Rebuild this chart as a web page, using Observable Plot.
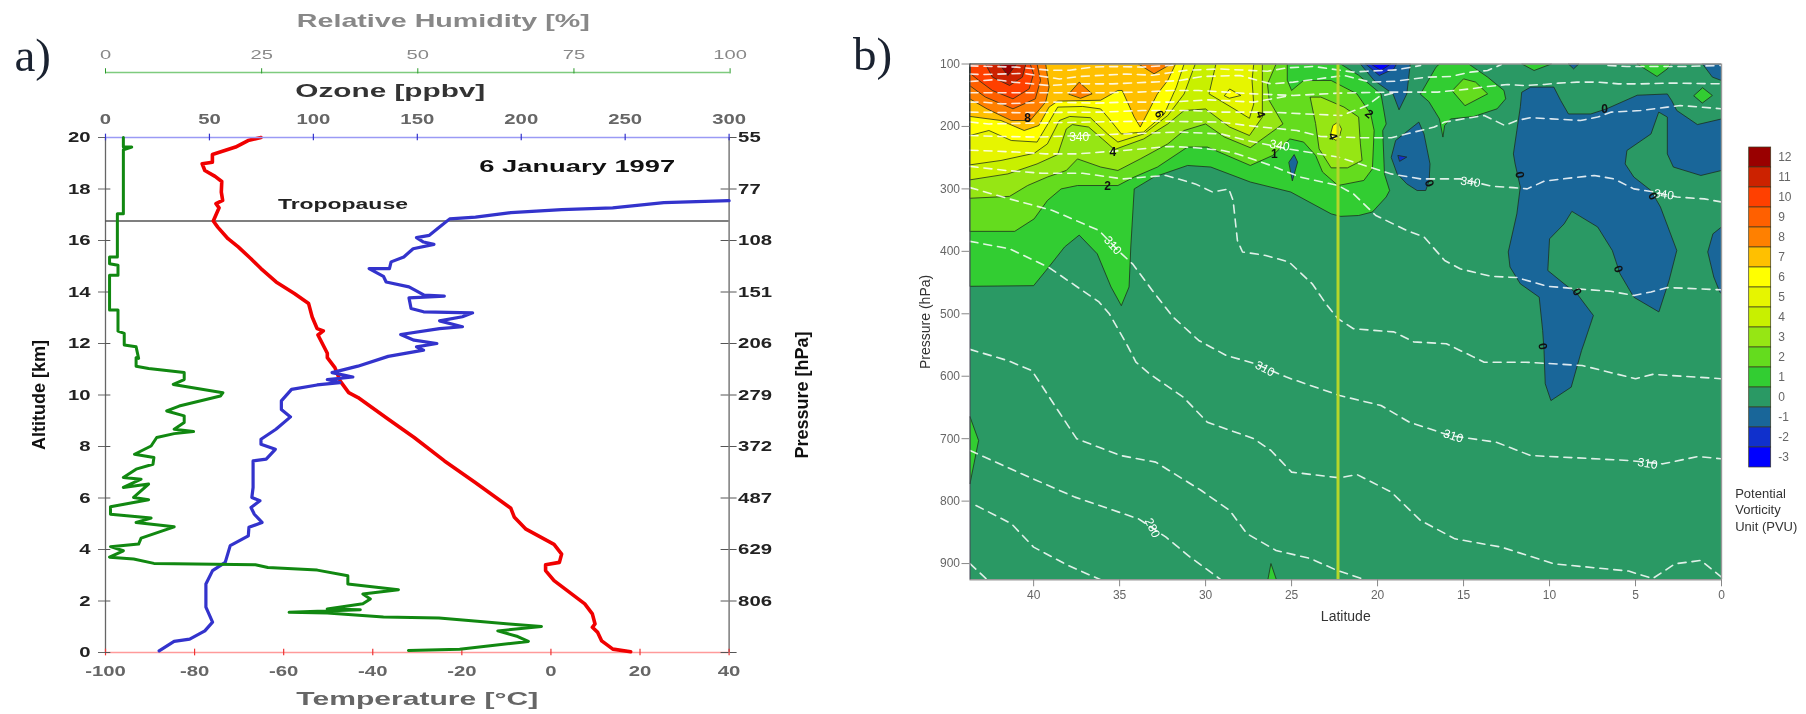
<!DOCTYPE html>
<html><head><meta charset="utf-8">
<script src="https://cdn.jsdelivr.net/npm/d3@7"></script>
<script src="https://cdn.jsdelivr.net/npm/@observablehq/plot@0.6"></script>
<style>
html,body{margin:0;padding:0;background:#fff;overflow:hidden}
#chart{position:relative;width:1806px;height:714px;filter:blur(.45px)}
#chart svg{position:absolute;left:0;top:0}
</style></head><body><div id="chart"></div>
<script>
// ---------- panel a: profiles as [value, altitude km]
const temperature = [[-65.1,20],[-68,19.88],[-70.8,19.63],[-76,19.34],[-76,19.04],[-78.3,18.98],[-77.7,18.72],[-75.4,18.49],[-73.9,18.29],[-74,17.88],[-73.7,17.56],[-75.2,17.43],[-74.5,17.27],[-75.8,16.76],[-74.8,16.52],[-72.5,16.07],[-70.2,15.75],[-67.4,15.3],[-65.1,14.91],[-61.7,14.39],[-57.6,13.94],[-54.4,13.55],[-53.6,13.03],[-52.5,12.58],[-51.1,12.49],[-52.3,12.33],[-50.2,11.62],[-50.2,11.45],[-48.5,11.06],[-47.3,10.54],[-45.4,10.09],[-43.3,9.9],[-36.5,9.06],[-30.7,8.35],[-23.9,7.44],[-17,6.6],[-9,5.6],[-8.2,5.25],[-5.6,4.79],[0.7,4.2],[2.4,3.82],[1.9,3.5],[-1.2,3.41],[-1.2,3.18],[0.7,2.79],[7.6,1.89],[9.3,1.5],[9.9,1.11],[9.3,0.98],[10.5,0.78],[11.4,0.45],[13.9,0.13],[17.9,0.03]];
const ozone = [[300,17.55],[268.6,17.47],[244,17.27],[219.5,17.2],[195,17.08],[178,16.91],[165.6,16.84],[160.7,16.52],[155.8,16.2],[149.6,16.11],[153,15.94],[158,15.85],[148,15.68],[143.5,15.36],[137.4,15.17],[136.6,14.91],[126.8,14.91],[133.7,14.61],[135,14.39],[146,14.2],[153.3,13.88],[163,13.84],[146,13.77],[147,13.36],[153,13.23],[176.6,13.19],[171.7,13.04],[160.7,12.88],[171.7,12.65],[160.7,12.58],[142,12.35],[148.4,12.13],[159.4,12],[149.6,11.87],[153,11.74],[136,11.5],[121.4,11.12],[109,10.87],[119,10.7],[106.7,10.6],[112.8,10.48],[101.8,10.39],[89.5,10.22],[84.6,9.77],[84.6,9.44],[89,9.15],[82,8.67],[74.8,8.28],[74.8,8.09],[81.7,7.89],[77.3,7.51],[71,7.44],[71,6.41],[70.4,6.02],[74.3,5.89],[70,5.63],[71.6,5.37],[75.3,5.05],[69,4.86],[68.7,4.53],[60,4.15],[57.6,3.5],[51.5,3.18],[48.3,2.66],[48.3,1.76],[51.5,1.18],[47.8,0.84],[40.5,0.52],[33,0.43],[25.8,0.06]];
const humidity = [[2.86,20],[2.86,19.63],[4.2,19.63],[2.86,19.52],[2.86,17.04],[1.9,17.04],[1.9,15.36],[.65,15.36],[.65,15.1],[2,15.04],[2,14.65],[.65,14.65],[.65,13.3],[2,13.3],[2,12.48],[3,12.39],[3,11.94],[4.9,11.87],[5.3,11.42],[4.9,11.45],[4.9,11.12],[6.9,11.03],[12.6,10.87],[12.6,10.6],[10.85,10.41],[18.8,10.09],[18.4,9.96],[11.8,9.57],[9.8,9.38],[12.6,9.19],[12.6,8.93],[11,8.67],[14.1,8.58],[11,8.5],[8.2,8.35],[7.3,8.02],[4.65,7.7],[7.75,7.57],[7.6,7.31],[4.9,7.12],[2.86,6.8],[5.7,6.73],[2.86,6.41],[6.9,6.54],[4.5,6.02],[6.9,5.93],[.8,5.66],[.8,5.37],[7.3,5.22],[4.9,5.05],[11,4.88],[5.7,4.44],[5.3,4.21],[.8,4.11],[2.86,3.95],[.65,3.7],[4.5,3.63],[7.75,3.46],[24,3.41],[26,3.3],[33.9,3.2],[38.8,2.98],[38.8,2.66],[46.9,2.44],[41.2,2.27],[42.4,2.08],[41.2,1.89],[35.5,1.69],[40.8,1.66],[29.4,1.56],[35.5,1.53],[44.5,1.38],[53.4,1.34],[60,1.2],[69.8,1.01],[62.8,.84],[66,.62],[67.7,.43],[56.7,.13],[48.5,.08]];
const tropopauseAltitude = 16.76;
const temperatureTicks = [-100,-80,-60,-40,-20,0,20,40];
const ozoneTicks = [0,50,100,150,200,250,300];
const humidityTicks = [0,25,50,75,100];
const altitudeTicks = [0,2,4,6,8,10,12,14,16,18,20];
const pressureLabels = {20:"55",18:"77",16:"108",14:"151",12:"206",10:"279",8:"372",6:"487",4:"629",2:"806",0:""};

// ---------- panel b: PV contour regions as [latitude, pressure hPa]
const levels = [12,11,10,9,8,7,6,5,4,3,2,1,0,-1,-2,-3];
const levelColors = {12:"#990000",11:"#cc2200",10:"#ff4000",9:"#ff6000",8:"#ff8000",7:"#ffc000",6:"#ffff00",5:"#e6f500",4:"#c8f000",3:"#96e614",2:"#64dc1e",1:"#32cd32",0:"#2a9964","-1":"#196699","-2":"#1030cc","-3":"#0000ff"};
const pv1 = [[43.7,456],[40,455],[39.2,428],[38.2,393],[37.35,374],[36.3,404],[35.5,457],[34.9,487],[34.45,457],[34.35,393],[34.15,300],[33,281],[31.05,262.5],[29.7,265],[27.4,289],[25.05,305],[22.7,340],[22.15,344],[21.1,342.6],[20.3,337],[19.5,313],[19.3,302.6],[19.6,276],[19.7,206.5],[19.5,196],[19.8,148],[21.1,118],[22.15,100],[43.7,100]];
const pv1b = [[17.5,147.8],[16.6,105],[16.4,100],[14.7,100],[13.6,121],[12.65,142.4],[12.55,155.8],[13.05,171.8],[14.4,184],[15.75,188],[16.1,198.5],[16.2,217],[16.4,188],[17,161]];
const pv1c = [[11.6,100],[10.9,110.4],[9.9,100]];
const pv1d = [[4.9,100],[3.75,120],[3.15,107.8],[2.96,100]];
const pv1e = [[1.6,150.4],[1.1,138],[.53,150.4],[1.1,162.2]];
const pv1f = [[43.7,665],[43.2,703],[43.7,772]];
const pv1g = [[26.38,926],[26.2,900],[25.88,926]];
const pv2 = [[43.7,368],[41.1,368],[39.97,348],[39.2,318.6],[38.4,300],[37.45,294.6],[35.1,294.6],[34.15,281],[32.8,265],[31.05,233],[29.9,233],[27.4,262.5],[26.1,246.5],[25.1,220],[24.3,225],[23.6,246.5],[23.2,273],[22.3,294.6],[20.8,286.5],[20.3,268],[20.2,206.5],[20.4,180],[21.2,147.8],[22.7,126.4],[24.3,126.4],[25,142.4],[25.25,126],[25.25,100],[43.7,100]];
const pv2b = [[15.65,142.4],[15,123.8],[14.3,129],[13.6,147.8],[14.9,166.5]];
const pv3 = [[43.7,315],[41.4,312],[40.35,294.6],[39.2,281],[38.1,270.5],[37.45,252],[36.1,265],[35.1,270.5],[33.8,252],[32.2,228],[31.25,206.5],[30,196],[28.9,217],[27.4,234],[25.5,196],[26.3,158.5],[26.4,132],[25.9,100],[43.7,100]];
const pv3b = [[23.9,153],[23.3,153],[21.95,169],[21.1,185],[21,228],[20.9,254.5],[21.75,266.3],[22.7,266.3],[23.4,236],[23.6,196]];
const pv4 = [[43.7,285.5],[41.5,276],[39.8,260],[38.6,245],[38.1,204],[37.75,197],[36.8,201],[36,220],[35.3,237],[33.6,220],[32.2,196],[31.25,174.5],[30,172],[28.6,201],[27.45,214.5],[26.7,185],[26.7,100],[43.7,100]];
const pv5 = [[43.7,261.5],[41.9,254.5],[39.97,243],[39.2,228],[38.5,190.5],[37.9,184],[36.7,186],[35.7,212],[35.1,225],[33.6,212],[32.2,182.5],[31.25,148],[30.6,100],[43.7,100]];
const pv5b = [[29.4,100],[29.8,147.8],[28.35,171.8],[27.45,187],[27.2,164],[27.3,126],[27.2,100]];
const pv5c = [[22.7,209],[22.6,198.5],[22.3,193],[22.1,204],[22.2,214.5],[22.4,222.5],[22.7,218]];
const pv6 = [[43.7,214.5],[42.6,206.5],[41.3,222.5],[39.8,225],[39,188],[38.6,169],[37.15,168],[36.1,172],[35.6,188],[34.9,212],[33.6,209],[32.4,180],[31.7,137],[31.25,100],[43.7,100]];
const pv6b = [[28.9,150.4],[28.6,140],[27.95,150.4],[28.6,154.7]];
const pv7 = [[43.7,184],[41.9,190.5],[40.55,206.5],[39.7,198.5],[39.1,169],[38.6,159.5],[36.1,158],[35.1,142.4],[34.85,142.4],[34.15,185],[33.8,201],[33.3,174.5],[32.8,147.8],[32.2,126.4],[31.75,100],[43.7,100]];
const pv8 = [[43.7,156],[42.7,172],[41.3,190.5],[40.2,190.5],[39.3,161],[39.1,137],[39.3,100],[43.7,100]];
const pv8b = [[37.95,147.8],[37.35,129],[36.6,147.8],[37.25,154.7]];
const pv8c = [[33.9,100],[33,115.7],[32,100]];
const pv9 = [[43.7,135],[42.8,153],[41.2,171.8],[39.9,155.8],[39.6,126.4],[39.8,100],[43.7,100]];
const pv10 = [[43.65,116],[43.2,126],[42.4,142.4],[41.2,155.8],[40.26,139.8],[40,115.7],[40.2,100],[43.65,100]];
const pv11 = [[42.8,100],[42.4,121],[41.4,134.4],[40.65,121],[40.45,100]];
const pv12 = [[42,100],[41.5,118.4],[41,100]];
const neg1a = [[11.6,145],[11.1,137],[9.75,137],[9.35,158.5],[8.9,180],[7.6,180],[6.7,172],[4.9,150],[3.15,148],[2.9,158.5],[2.6,174.5],[1.4,197],[0,188],[0,270.5],[1.2,278.5],[2.8,265],[3.15,244],[3.15,185],[3.65,177],[4.1,212],[5.5,238.5],[5.6,260],[5.1,281],[4.1,302.6],[3.55,329],[2.6,398.6],[3.05,446.7],[3.64,497],[5.1,473.4],[5.9,436],[6.35,398.6],[7.2,361],[8.7,336],[9.15,356],[10,380],[10.1,430.7],[9.15,452],[8.4,468],[7.45,502.7],[8,548],[8.14,559],[8.74,617.5],[9.92,639],[10.25,612],[10.32,559],[10.4,526.7],[10.6,473.4],[11.7,452],[12.3,425],[12.4,401],[11.9,340],[11.7,297],[12,260],[12.1,244],[11.9,206.5],[11.7,169]];
const neg1b = [[0,361],[.5,372],[.8,401],[.45,441],[.1,465],[0,468]];
const neg1c = [[19.2,249],[18.95,222.5],[17.6,193],[17.3,212],[16.95,260],[17,286.5],[17.2,302.6],[17.7,302.6],[18.3,292],[18.85,276]];
const neg1d = [[21,100],[20.2,126.4],[19.1,148],[18.75,173.4],[18.3,148],[18.1,100]];
const neg1e = [[1.1,100],[.53,121],[0,126.4],[0,100]];
const neg1f = [[8.9,100],[8.6,107.8],[8.3,100]];
const neg1g = [[25.15,257],[24.85,245],[24.65,257],[24.95,286.6]];
const neg2a = [[18.8,246.5],[18.3,249],[18.7,255.6]];
const neg2b = [[20.7,100],[19.9,118.4],[19.05,107.8],[18.9,100]];
const neg3 = [[20.4,100],[19.8,110.4],[19.24,100]];

// ---------- panel b: potential-temperature isolines
const theta1 = [[43.7,103],[41,105],[39.1,110],[37.9,110],[36.6,105],[35.4,104],[33.7,105],[31.9,102]];
const theta2 = [[43.7,116],[43,117],[40.6,115],[38.5,124],[37.3,120],[34.6,116],[33.1,118],[31.1,110],[29.2,108],[26.4,111.5],[25.2,106],[23.7,104],[21.4,113],[20.6,111.5],[18.9,109.3],[17.5,102.4]];
const theta3 = [[43.7,128],[43.4,127.5],[42.2,125],[41.2,129],[39.1,134.4],[37.5,131.8],[35.4,131.8],[33.1,129],[31.5,126.4],[30.2,120],[28,118.4],[26.2,131.8],[24.9,129],[21.95,118.4],[20.4,129],[19,127.5],[17.1,121],[15.75,120],[14.6,113],[13.6,110.4],[12.8,100.8]];
const theta4 = [[43.7,146],[42.8,146],[41.2,146],[38.9,146],[36,146],[33.9,145],[31.9,142.4],[30.4,142.4],[27.2,147.8],[24.9,150.4],[22.3,146.7],[19.4,145],[16.5,145],[14.6,139.8],[13.6,136],[12.45,132.8],[11.5,134.4],[10.3,132.8],[9.5,130.7],[8.4,129],[7.2,129],[6,131.8],[4.7,131.8],[3.3,130.7],[2.4,130.7],[0,131.8]];
const theta5 = [[43.7,161],[43,161],[41.8,163.8],[38.9,161],[36.4,162.7],[34.6,161],[32.1,161],[29.8,157.4],[27.2,161],[25.05,150.4]];
const theta6 = [[43.7,177],[40.8,178],[36,177],[33.7,174.5],[30.8,174.5],[29.1,177],[26.2,177],[24.3,179.8],[22.1,182.5],[20.6,166.5],[19.9,152],[19,146]];
const theta7 = [[43.7,193],[42.6,196],[40.1,194.7],[36.8,193],[34.8,192],[32.9,191.5],[29.1,193],[27.6,198.5],[24.7,206.5],[23.3,216],[21,218],[19.2,218],[16.7,201],[16.1,193],[14.6,186],[13.8,182.5],[12.6,198.5],[11.9,190.5],[11.1,186],[9.9,187.8],[8.2,190.5],[7.2,185],[6.4,177],[4.7,174.5],[3.15,169],[2.4,166.5],[1.2,169],[0,171.8]];
const theta8 = [[43.7,214.5],[42,216],[39.7,217],[35.8,213],[31.5,209],[29.1,212],[27.6,222.5],[25.2,236],[22.3,249],[20.6,264],[19.2,276],[17.5,284],[15.2,284],[13.3,296],[12.1,298],[11.3,300],[10.3,287.6],[8.6,282],[7.4,278.5],[6.25,284],[5.1,300],[3.9,305],[2.6,313],[1,316],[0,321]];
const theta9 = [[43.7,238],[41,241],[39.3,244],[37.5,244],[34.8,238.5],[32.1,232],[30.6,234],[29,238.5],[28.15,244],[26.2,262.5],[24.5,281],[22.3,294.6],[21.4,308],[20.1,342.6],[18.3,366.6],[17.3,377],[16.1,414.6],[15.2,428],[13.4,440],[11.9,442],[10.1,456],[8.4,460],[6.45,464],[5.1,470.7],[4.1,465],[3.15,458],[0,461.6]];
const theta10 = [[43.7,264],[41.6,270.5],[39.5,275],[37.15,275],[34.8,284],[33.5,281],[32.3,278.5],[30.6,292],[29.6,305],[28.65,300],[28.4,318.5],[28.15,382.6],[27.85,401],[26.5,406.6],[25.15,417],[23.8,452],[23,484],[22.3,508],[21.4,524],[19.05,529],[17.9,545],[16,548],[14.4,569.4],[13.8,577.5],[11.4,577.5],[8.1,582.8],[5,604],[4,597],[0,604]];
const theta11 = [[43.7,298],[41.4,316],[38.9,334.5],[36.2,366.6],[35,401],[34.25,420],[33.1,462.6],[31.9,505],[30.4,542.7],[28.8,566.7],[27.1,580],[25.3,601.4],[24.2,612],[22.2,630.9],[19.8,646.9],[18.15,673.6],[15.8,694.9],[13.1,705.6],[11.1,727],[8.4,730.7],[5.4,735],[3.4,740.3],[1.35,728.5],[0,732.3]];
const theta12 = [[43.7,384],[41.4,396],[39.1,426],[36.2,481],[35.6,500],[34.6,548],[34.05,577.4],[33.27,596],[31.3,633.5],[29.9,673.6],[27.2,700],[26.2,718.9],[25,753.6],[22.2,762.7],[21.2,757.4],[19.2,785.6],[17.5,831],[15.5,860.4],[12.8,873.7],[9.75,900.4],[5.4,912],[4,924],[2.7,900.4],[1.2,895],[0,921.8]];
const theta13 = [[43.7,557],[41.5,575],[40.1,591],[38.65,652],[37.5,700],[34.95,727],[32.9,737.6],[30.25,783],[28.6,815],[27.6,852],[25.9,879],[23.9,892],[22.35,911],[20.7,926]];
const theta14 = [[43.7,718.9],[40.7,756.3],[37.6,793.6],[33.9,828.4],[32.3,857.7],[30.9,889.7],[29.1,926]];
const theta15 = [[43.35,807],[41.3,836],[40,873.7],[38,903],[36.1,926]];
const theta16 = [[43.7,900],[42.7,926]];
const theta17 = [[6.6,102.4],[5.5,104],[3.7,104],[2.2,104],[0,102.4]];
const thetaLines = [theta1,theta2,theta3,theta4,theta5,theta6,theta7,theta8,theta9,theta10,theta11,theta12,theta13,theta14,theta15,theta16,theta17];
const thetaLabels = [[37.35,217,"340",0],[25.7,230.5,"340",10],[14.6,289,"340",8],[3.35,309,"340",8],[35.4,390.6,"310",48],[26.55,588,"310",28],[15.6,696,"310",18],[4.3,740,"310",10],[33.1,843,"280",65]];
const pvLabels = [[40.35,186,"8",0],[35.4,241,"4",0],[35.7,295.6,"2",0],[26,244,"1",0],[32.7,180,"6",70],[26.8,181,"4",70],[20.5,180,"2",40],[22.6,216,"4",70],[6.8,172,"0",0],[17,291,"0",70],[11.74,277.5,"0",80],[4,311.6,"0",60],[6,428.5,"0",70],[8.4,465,"0",60],[10.4,552,"0",80]];
const latitudeTicks = [40,35,30,25,20,15,10,5,0];
const pressureTicks = [100,200,300,400,500,600,700,800,900];
const sectionLatitude = 22.3;
const keyCaption = ["Potential","Vorticity","Unit (PVU)"];

const W = 1806, H = 714;
const serif = "Liberation Serif", sans = "Liberation Sans";
const L = 105, R = W - 728.6, T = 137, B = H - 652;
const base = {width:W, height:H, marginLeft:L, marginRight:R, marginTop:T, marginBottom:B,
  style:{background:"transparent", fontFamily:sans}, y:{domain:[0,20], axis:null}};
const xy = {x:d=>d[0], y:d=>d[1]};

// temperature layer
const tempPlot = Plot.plot({...base, x:{domain:[-100,40], axis:null}, marks:[
  Plot.ruleX([-100,40],{stroke:"#666", strokeWidth:1.3}),
  Plot.ruleY([tropopauseAltitude],{stroke:"#555", strokeWidth:1.5}),
  Plot.ruleY([0],{stroke:"#ff9a9a", strokeWidth:1.5}),
  Plot.ruleX(temperatureTicks,{x:d=>d, y1:-0.13, y2:0.13, stroke:"#e33", strokeWidth:1.2}),
  Plot.axisX({anchor:"bottom", ticks:temperatureTicks, tickSize:0, tickPadding:13, label:null, fontSize:14.5, fontWeight:"bold", fill:"#666", tickFormat:String}),
  Plot.axisY({anchor:"left", ticks:altitudeTicks, tickSize:7, tickPadding:8, label:null, fontSize:14.5, fontWeight:"bold", fill:"#222", stroke:"#666"}),
  Plot.axisY({anchor:"right", ticks:altitudeTicks, tickSize:7, tickPadding:2, label:null, fontSize:14.5, fontWeight:"bold", fill:"#222", stroke:"#555", tickFormat:d=>pressureLabels[d]}),
  Plot.ruleY(altitudeTicks,{y:d=>d, x1:38.2, x2:40, stroke:"#555"}),
  Plot.ruleY(altitudeTicks,{y:d=>d, x1:-100, x2:-98.8, stroke:"#555"}),
  Plot.line(temperature,{...xy, stroke:"#f00000", strokeWidth:3.6}),
  Plot.text(["6 January 1997"],{x:5.9, y:18.88, fontSize:17, fontWeight:"bold", fill:"#111"}),
  Plot.text(["Tropopause"],{x:-46.7, y:17.38, fontSize:14, fontWeight:"bold", fill:"#222"}),
  Plot.text(["Temperature [°C]"],{frameAnchor:"bottom", dy:52, fontSize:19, fontWeight:"bold", fill:"#666"}),
  Plot.text(["Altitude [km]"],{frameAnchor:"left", textAnchor:"middle", rotate:-90, dx:-66, fontSize:18, fontWeight:"bold", fill:"#111"}),
  Plot.text(["Pressure [hPa]"],{frameAnchor:"right", textAnchor:"middle", rotate:-90, dx:73, fontSize:18, fontWeight:"bold", fill:"#111"}),
  Plot.text(["a)"],{frameAnchor:"top-left", textAnchor:"start", dx:-91, dy:-100, fontSize:47, fontFamily:serif, fill:"#1a2230"})
]});

// ozone layer
const ozonePlot = Plot.plot({...base, x:{domain:[0,300], axis:null}, marks:[
  Plot.ruleY([20],{stroke:"#9a9af5", strokeWidth:1.5}),
  Plot.ruleX(ozoneTicks,{x:d=>d, y1:19.87, y2:20.13, stroke:"#3333cc", strokeWidth:1.2}),
  Plot.axisX({anchor:"top", ticks:ozoneTicks, tickSize:0, tickPadding:14, label:null, fontSize:14.5, fontWeight:"bold", fill:"#666"}),
  Plot.line(ozone,{...xy, stroke:"#3333cc", strokeWidth:3.2}),
  Plot.text(["Ozone [ppbv]"],{frameAnchor:"top", dy:-54, dx:-27, fontSize:19, fontWeight:"bold", fill:"#333"})
]});

// humidity curve and its own axis
const humidityPlot = Plot.plot({...base, x:{domain:[0,100], axis:null}, marginRight:W-729.6, marks:[
  Plot.line(humidity,{...xy, stroke:"#118811", strokeWidth:3})
]});
const humidityAxis = Plot.plot({...base, marginTop:72, marginRight:W-729.6, x:{domain:[0,100], axis:null}, marks:[
  Plot.ruleY([20],{stroke:"#7ecb7e", strokeWidth:1.3}),
  Plot.axisX({anchor:"top", ticks:humidityTicks, tickSize:0, tickPadding:14, label:null, fontSize:13, fill:"#888"}),
  Plot.ruleX(humidityTicks,{x:d=>d, y1:19.95, y2:20.13, stroke:"#2a9a2a", strokeWidth:1}),
  Plot.text(["Relative Humidity [%]"],{frameAnchor:"top", dy:-59, dx:25.5, fontSize:19, fontWeight:"bold", fill:"#888"})
]});

// panel b
const region = (pts, lv) => Plot.line(pts,{...xy, fill:levelColors[lv], stroke:"#1c2c1c", strokeWidth:.9, strokeOpacity:.85, curve:"linear-closed", clip:true});
const sectionPlot = Plot.plot({
  width:W, height:H, marginLeft:969.5, marginRight:W-1721, marginTop:63.5, marginBottom:H-579.3,
  style:{background:"transparent", fontFamily:sans},
  x:{domain:[43.7,0], axis:null}, y:{domain:[100,926], reverse:true, axis:null},
  marks:[
    Plot.frame({fill:levelColors[0], stroke:"none"}),
    region(pv1,1),region(pv1b,1),region(pv1c,1),region(pv1d,1),region(pv1e,1),region(pv1f,1),region(pv1g,1),
    region(pv2,2),region(pv2b,2),region(pv3,3),region(pv3b,3),region(pv4,4),
    region(pv5,5),region(pv5b,5),region(pv5c,6),region(pv6,6),region(pv6b,6),
    region(pv7,7),region(pv8,8),region(pv8b,8),region(pv8c,8),region(pv9,9),region(pv10,10),region(pv11,11),region(pv12,12),
    region(neg1a,-1),region(neg1b,-1),region(neg1c,-1),region(neg1d,-1),region(neg1e,-1),region(neg1f,-1),region(neg1g,-1),
    region(neg2a,-2),region(neg2b,-2),region(neg3,-3),
    ...thetaLines.map(t => Plot.line(t,{...xy, stroke:"#fff", strokeWidth:1.6, strokeOpacity:.85, strokeDasharray:"8,6", clip:true})),
    Plot.ruleX([sectionLatitude],{stroke:"#b5d62a", strokeWidth:3}),
    Plot.text(thetaLabels,{x:d=>d[0], y:d=>d[1], text:d=>d[2], rotate:d=>d[3], fill:"#fff", fontSize:12}),
    Plot.text(pvLabels,{x:d=>d[0], y:d=>d[1], text:d=>d[2], rotate:d=>d[3], fill:"#111", fontSize:12, fontWeight:"bold"}),
    Plot.ruleY([100,926],{stroke:"#999", strokeWidth:1.4}),
    Plot.ruleX([0],{stroke:"#999", strokeWidth:1.4}),
    Plot.ruleX([43.7],{stroke:"#445", strokeWidth:1}),
    Plot.axisX({anchor:"bottom", ticks:latitudeTicks, tickSize:7, tickPadding:4, label:null, fontSize:12, fill:"#666", stroke:"#888"}),
    Plot.axisY({anchor:"left", ticks:pressureTicks, tickSize:8, tickPadding:2, label:null, fontSize:12, fill:"#666", stroke:"#888"}),
    Plot.text(["Latitude"],{frameAnchor:"bottom", dy:41, fontSize:14, fill:"#333"}),
    Plot.text(["Pressure (hPa)"],{frameAnchor:"left", textAnchor:"middle", rotate:-90, dx:-44, fontSize:14, fill:"#333"}),
    Plot.text(["b)"],{frameAnchor:"top-left", textAnchor:"start", dx:-117, dy:-27, fontSize:47, fontFamily:serif, fill:"#1a2230"})
  ]});

// colour key
const legendPlot = Plot.plot({
  width:W, height:H, marginLeft:1748.7, marginRight:W-1770.7, marginTop:140.7, marginBottom:H-473,
  style:{background:"transparent", fontFamily:sans},
  x:{axis:null}, y:{type:"band", domain:levels, padding:0, axis:null}, color:{type:"identity"},
  marks:[
    Plot.cell(levels,{y:d=>d, fill:d=>levelColors[d], stroke:"#3a3a20", strokeWidth:.7}),
    Plot.axisY({anchor:"right", tickSize:0, tickPadding:7, label:null, fontSize:12, fill:"#666"}),
    ...keyCaption.map((line,i)=>Plot.text([line],{frameAnchor:"bottom-left", textAnchor:"start", dx:-14, dy:24+i*16.5, fontSize:13, fill:"#333"}))
  ]});

const root = document.getElementById("chart");
const leftPlots = [tempPlot, ozonePlot, humidityPlot, humidityAxis];
[...leftPlots, sectionPlot, legendPlot].forEach(p=>root.appendChild(p));

// the reference's left-panel lettering is horizontally stretched
const titleLengths = {"Relative Humidity [%]":293,"Ozone [ppbv]":190,"Temperature [°C]":242,"6 January 1997":196,"Tropopause":130};
const upright = new Set(["a)","Altitude [km]","Pressure [hPa]"]);
leftPlots.forEach(p=>p.querySelectorAll("text").forEach(t=>{
  const s=t.textContent;
  if(!s||upright.has(s)) return;
  const len=titleLengths[s]||t.getComputedTextLength()*(p===humidityAxis?1.55:1.4);
  t.setAttribute("textLength",len);
  t.setAttribute("lengthAdjust","spacingAndGlyphs");
}));
</script></body></html>
